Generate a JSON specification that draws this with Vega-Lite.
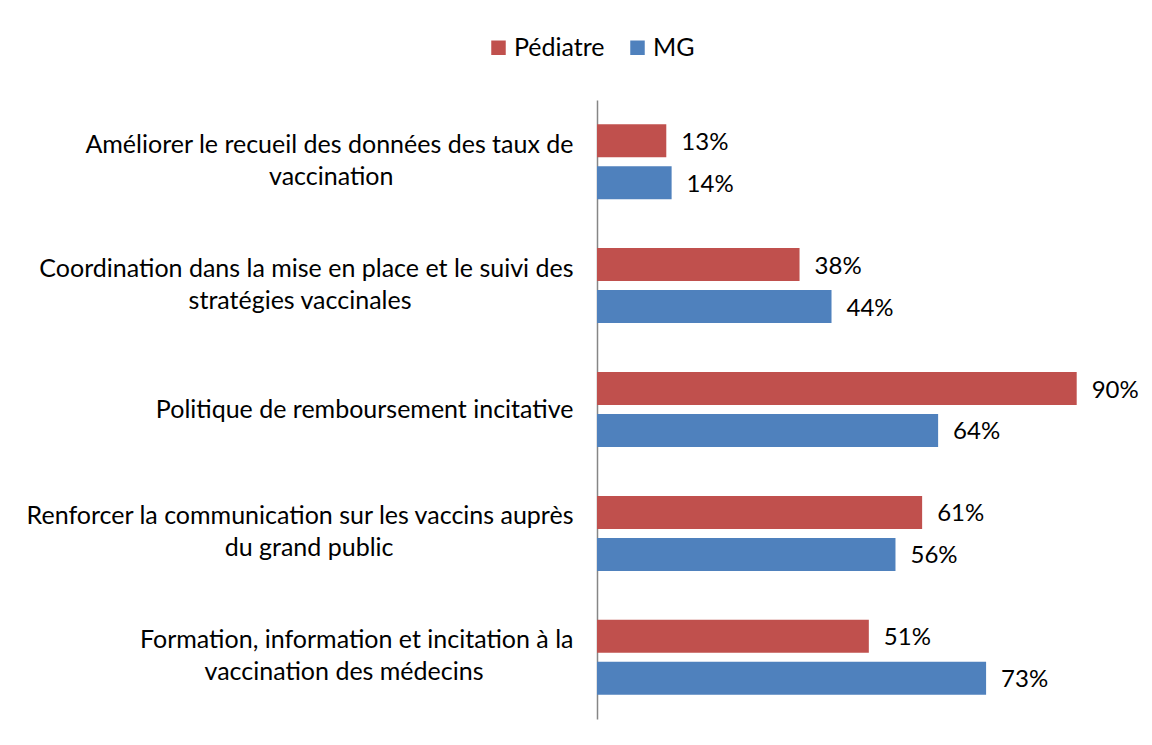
{
  "$schema": "https://vega.github.io/schema/vega-lite/v6.json",
  "autosize": "none",
  "width": 533,
  "height": 619,
  "padding": {"left": 597, "top": 100, "right": 22, "bottom": 26},
  "background": "white",
  "config": {"view": {"stroke": null}, "font": "Lato"},
  "data": {
    "values": [
      {"category": "Améliorer le recueil des données des taux de|vaccination", "series": "Pédiatre", "value": 0.13},
      {"category": "Améliorer le recueil des données des taux de|vaccination", "series": "MG", "value": 0.14},
      {"category": "Coordination dans la mise en place et le suivi des|stratégies vaccinales", "series": "Pédiatre", "value": 0.38},
      {"category": "Coordination dans la mise en place et le suivi des|stratégies vaccinales", "series": "MG", "value": 0.44},
      {"category": "Politique de remboursement incitative", "series": "Pédiatre", "value": 0.90},
      {"category": "Politique de remboursement incitative", "series": "MG", "value": 0.64},
      {"category": "Renforcer la communication sur les vaccins auprès|du grand public", "series": "Pédiatre", "value": 0.61},
      {"category": "Renforcer la communication sur les vaccins auprès|du grand public", "series": "MG", "value": 0.56},
      {"category": "Formation, information et incitation à la|vaccination des médecins", "series": "Pédiatre", "value": 0.51},
      {"category": "Formation, information et incitation à la|vaccination des médecins", "series": "MG", "value": 0.73}
    ]
  },
  "encoding": {
    "y": {
      "field": "category",
      "type": "nominal",
      "sort": null,
      "title": null,
      "scale": {"paddingInner": 0.395, "paddingOuter": 0.195},
      "axis": {
        "labelExpr": "indexof(datum.label, '|') < 0 ? datum.label : [split(datum.label, '|')[0], split(datum.label, '|')[1] + pad('', round((length(split(datum.label, '|')[0]) - length(split(datum.label, '|')[1])) * 0.307), '\u2800')]",
        "labelFontSize": 25,
        "labelLineHeight": 32,
        "labelColor": "#000000",
        "labelPadding": 24,
        "labelLimit": 700,
        "ticks": false,
        "domainColor": "#868686",
        "domainWidth": 1.5,
        "labelAlign": "right",
        "labelBaseline": {"condition": {"test": "indexof(datum.value, '|') >= 0", "value": "line-bottom"}, "value": "middle"}
      }
    },
    "yOffset": {
      "field": "series",
      "type": "nominal",
      "sort": ["Pédiatre", "MG"],
      "scale": {"paddingInner": 0.214, "paddingOuter": 0}
    },
    "x": {
      "field": "value",
      "type": "quantitative",
      "scale": {"domain": [0, 1]},
      "axis": null
    }
  },
  "layer": [
    {
      "mark": {"type": "bar"},
      "encoding": {
        "color": {
          "field": "series",
          "type": "nominal",
          "scale": {"domain": ["Pédiatre", "MG"], "range": ["#C0504D", "#4F81BD"]},
          "legend": {
            "title": null,
            "orient": "none",
            "direction": "horizontal",
            "legendX": -111,
            "legendY": -65,
            "symbolType": "square",
            "symbolSize": 210,
            "symbolStrokeWidth": 0,
            "labelFontSize": 25,
            "labelColor": "#000000",
            "labelOffset": 3,
            "columnPadding": 20
          }
        }
      }
    },
    {
      "mark": {"type": "text", "align": "left", "baseline": "middle", "dx": 15, "dy": 2, "fontSize": 24, "color": "#000000"},
      "encoding": {
        "text": {"field": "value", "type": "quantitative", "format": ".0%"}
      }
    }
  ]
}
